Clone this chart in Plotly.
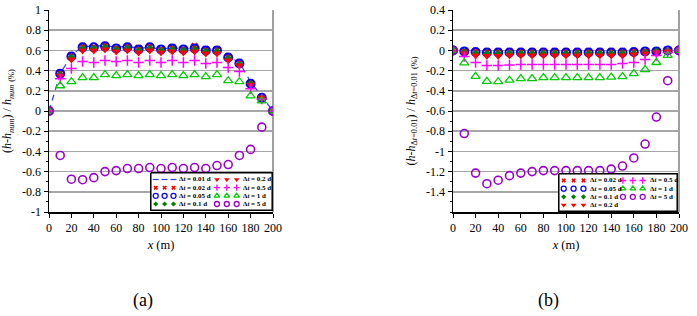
import plotly.graph_objects as go

# ---------------- data ----------------
x_m = [0, 10, 20, 30, 40, 50, 60, 70, 80, 90, 100, 110, 120, 130, 140, 150, 160, 170, 180, 190, 200]

# (a) relative error vs numerical solution (%)
a_dt001 = [0, 0.37, 0.55, 0.64, 0.64, 0.65, 0.63, 0.64, 0.62, 0.63, 0.61, 0.63, 0.61, 0.63, 0.61, 0.61, 0.54, 0.48, 0.29, 0.14, 0]
a_dt002 = [0, 0.38, 0.55, 0.64, 0.63, 0.65, 0.62, 0.64, 0.62, 0.64, 0.61, 0.63, 0.61, 0.64, 0.61, 0.61, 0.54, 0.48, 0.28, 0.14, 0]
a_dt005 = [0, 0.37, 0.54, 0.63, 0.63, 0.64, 0.62, 0.63, 0.61, 0.63, 0.61, 0.62, 0.61, 0.62, 0.60, 0.60, 0.53, 0.47, 0.27, 0.13, 0]
a_dt01 = [0, 0.36, 0.53, 0.62, 0.62, 0.63, 0.61, 0.62, 0.60, 0.62, 0.60, 0.61, 0.60, 0.61, 0.59, 0.59, 0.52, 0.46, 0.27, 0.13, 0]
a_dt02 = [0, 0.35, 0.51, 0.60, 0.60, 0.61, 0.59, 0.60, 0.58, 0.60, 0.58, 0.59, 0.58, 0.59, 0.57, 0.57, 0.50, 0.45, 0.26, 0.13, 0]
a_dt05 = [0, 0.32, 0.42, 0.49, 0.48, 0.50, 0.49, 0.50, 0.48, 0.50, 0.48, 0.50, 0.48, 0.50, 0.47, 0.48, 0.43, 0.39, 0.22, 0.12, 0]
a_dt1 = [0, 0.25, 0.29, 0.33, 0.33, 0.36, 0.35, 0.36, 0.35, 0.36, 0.35, 0.36, 0.35, 0.36, 0.34, 0.36, 0.30, 0.29, 0.15, 0.10, 0]
a_dt5 = [0, -0.44, -0.675, -0.68, -0.66, -0.60, -0.59, -0.57, -0.57, -0.56, -0.57, -0.56, -0.57, -0.56, -0.57, -0.54, -0.53, -0.44, -0.38, -0.16, 0]

# (b) relative error vs dt = 0.01 d solution (%)
b_dt002 = [0, -0.005, -0.01, -0.01, -0.01, -0.01, -0.01, -0.01, -0.01, -0.01, -0.01, -0.01, -0.01, -0.01, -0.01, -0.01, -0.01, -0.01, -0.005, 0, 0]
b_dt005 = [0, -0.01, -0.015, -0.02, -0.02, -0.02, -0.02, -0.02, -0.02, -0.02, -0.02, -0.02, -0.02, -0.02, -0.02, -0.02, -0.015, -0.01, -0.01, 0, 0]
b_dt01 = [0, -0.02, -0.03, -0.03, -0.03, -0.03, -0.03, -0.03, -0.03, -0.03, -0.03, -0.03, -0.03, -0.03, -0.03, -0.03, -0.03, -0.02, -0.01, -0.005, 0]
b_dt02 = [0, -0.03, -0.05, -0.055, -0.055, -0.05, -0.05, -0.05, -0.05, -0.05, -0.05, -0.05, -0.05, -0.05, -0.05, -0.05, -0.04, -0.03, -0.02, -0.01, 0]
b_dt05 = [0, -0.06, -0.12, -0.15, -0.15, -0.145, -0.14, -0.14, -0.14, -0.14, -0.14, -0.14, -0.14, -0.14, -0.14, -0.13, -0.12, -0.09, -0.05, -0.02, 0]
b_dt1 = [0, -0.123, -0.257, -0.307, -0.31, -0.295, -0.28, -0.28, -0.27, -0.27, -0.27, -0.27, -0.27, -0.27, -0.265, -0.26, -0.23, -0.19, -0.12, -0.05, 0]
b_dt5 = [0, -0.823, -1.215, -1.32, -1.285, -1.24, -1.215, -1.20, -1.19, -1.19, -1.19, -1.19, -1.19, -1.19, -1.175, -1.145, -1.065, -0.927, -0.66, -0.30, 0]

# tick labels
x_ticks = [0, 20, 40, 60, 80, 100, 120, 140, 160, 180, 200]
y_ticks_a = [-1, -0.8, -0.6, -0.4, -0.2, 0, 0.2, 0.4, 0.6, 0.8, 1]
y_ticks_b = [-1.4, -1.2, -1, -0.8, -0.6, -0.4, -0.2, 0, 0.2, 0.4]

def lab(v):
    return "%g" % v

# ---------------- styles ----------------
FONT = "Liberation Serif"
styles = {
    "0.01": dict(mode="lines", line=dict(color="#2040ff", width=1.2, dash="6px,5px")),
    "0.02": dict(mode="markers", marker=dict(symbol="x", size=7, color="#ff0000", line=dict(width=0))),
    "0.05": dict(mode="markers", marker=dict(symbol="circle-open", size=8, color="#0000ff", line=dict(width=2))),
    "0.1": dict(mode="markers", marker=dict(symbol="diamond", size=6, color="#008000", line=dict(width=0))),
    "0.2": dict(mode="markers", marker=dict(symbol="triangle-down", size=8, color="#ff0000", line=dict(width=0))),
    "0.5": dict(mode="markers", marker=dict(symbol="cross-thin-open", size=7.5, color="#ff00ff", line=dict(width=1.5, color="#ff00ff"))),
    "1": dict(mode="markers", marker=dict(symbol="triangle-up-open", size=8, color="#00cc00", line=dict(width=1.3))),
    "5": dict(mode="markers", marker=dict(symbol="circle-open", size=8, color="#9900cc", line=dict(width=1.6))),
}

series_a = [("0.01", a_dt001), ("0.02", a_dt002), ("0.05", a_dt005), ("0.1", a_dt01),
            ("0.2", a_dt02), ("0.5", a_dt05), ("1", a_dt1), ("5", a_dt5)]
series_b = [("0.02", b_dt002), ("0.05", b_dt005), ("0.1", b_dt01),
            ("0.2", b_dt02), ("0.5", b_dt05), ("1", b_dt1), ("5", b_dt5)]

fig = go.Figure()
for name, ys in series_a:
    fig.add_trace(go.Scatter(x=x_m, y=ys, xaxis="x", yaxis="y", name="Δt = %s d" % name,
                             showlegend=False, **styles[name]))
for name, ys in series_b:
    fig.add_trace(go.Scatter(x=x_m, y=ys, xaxis="x2", yaxis="y2", name="Δt = %s d" % name,
                             showlegend=False, **styles[name]))

W, H = 697, 316
def px2x(p): return p / W
def px2y(p): return 1 - p / H

annotations = []
shapes = []

# ---------------- manual legends ----------------
def build_legend(xr, yr, box, cols, col_marker_x, col_text_x, rows_y):
    bx0, by0, bx1, by1 = box
    bw, bh = bx1 - bx0, by1 - by0
    # white box with black frame (legend background)
    fig.add_trace(go.Scatter(x=[0, bw, bw, 0, 0], y=[0, 0, bh, bh, 0], xaxis=xr, yaxis=yr,
                             mode="lines", fill="toself", fillcolor="white",
                             line=dict(color="black", width=1.5), showlegend=False, hoverinfo="skip"))
    for ci, col in enumerate(cols):
        for ri, name in enumerate(col):
            st = styles[name]
            xx = col_marker_x[ci]
            if st["mode"] == "lines":
                for k in range(3):
                    fig.add_trace(go.Scatter(x=[xx[k] - 3, xx[k] + 3], y=[rows_y[ri]] * 2, xaxis=xr,
                                             yaxis=yr, mode="lines",
                                             line=dict(color=st["line"]["color"], width=1.2),
                                             showlegend=False, hoverinfo="skip"))
            else:
                m = dict(st["marker"])
                m["size"] = max(4, m["size"] - 3)
                if "line" in m:
                    m["line"] = dict(m["line"])
                    if m["line"].get("width", 0) > 1.3:
                        m["line"]["width"] = 1.3
                fig.add_trace(go.Scatter(x=xx, y=[rows_y[ri]] * 3, xaxis=xr, yaxis=yr,
                                         mode="markers", marker=m, showlegend=False, hoverinfo="skip"))
            annotations.append(dict(x=col_text_x[ci], y=rows_y[ri], xref=xr,
                                    yref=yr, xanchor="left", yanchor="middle",
                                    showarrow=False, text="<b>Δ<i>t</i> = %s d</b>" % name,
                                    font=dict(family=FONT, size=7, color="black")))
    return bw, bh

box_a = (150, 172, 273, 211)
box_b = (558, 173, 678, 212)
rows = [7, 15.5, 24, 32.5]
bw_a, bh_a = build_legend("x3", "y3", box_a,
                          [["0.01", "0.02", "0.05", "0.1"], ["0.2", "0.5", "1", "5"]],
                          [[5, 14, 23], [67, 77, 87]], [27, 91], rows)
bw_b, bh_b = build_legend("x4", "y4", box_b,
                          [["0.02", "0.05", "0.1", "0.2"], ["0.5", "1", "5"]],
                          [[5, 15, 25], [65, 75, 85]], [30, 90], rows)

# ---------------- axes ----------------
xa_dom = [px2x(49), px2x(273)]
xb_dom = [px2x(453), px2x(679)]
y_dom = [px2y(212), px2y(10)]

tickfont = dict(family=FONT, size=12, color="black")
common_x = dict(range=[0, 200], tickvals=x_ticks, ticktext=[lab(v) for v in x_ticks],
                showline=True, linecolor="black", linewidth=1.5, ticks="outside", ticklen=4,
                tickcolor="black", tickwidth=1, showgrid=False, zeroline=False, tickfont=tickfont,
                automargin=False,
                title=dict(text="<i>x</i> (m)", font=dict(family=FONT, size=12.5, color="black"), standoff=6))
common_y = dict(showline=True, linecolor="black", linewidth=1.5, ticks="outside", ticklen=4,
                tickcolor="black", tickwidth=1, showgrid=True, gridcolor="#a6a6a6", gridwidth=1.5,
                zeroline=False, tickfont=tickfont, automargin=False,
                minor=dict(ticks="outside", ticklen=2, dtick=0.1, tickcolor="black", showgrid=False))
hidden = dict(visible=False, fixedrange=True, automargin=False, showgrid=False, zeroline=False)

fig.update_layout(
    width=W, height=H, margin=dict(l=0, r=0, t=0, b=0),
    paper_bgcolor="white", plot_bgcolor="white", showlegend=False,
    font=dict(family=FONT, color="black"),
    xaxis=dict(domain=xa_dom, anchor="y", **common_x),
    yaxis=dict(domain=y_dom, anchor="x", range=[-1, 1], tickvals=y_ticks_a,
               ticktext=[lab(v) for v in y_ticks_a],
               title=dict(text="(<i>h</i>-<i>h</i><sub><i>num</i></sub>) / <i>h</i><sub><i>num</i></sub> <sub>(%)</sub>",
                          font=dict(family=FONT, size=12, color="black"), standoff=8),
               **common_y),
    xaxis2=dict(domain=xb_dom, anchor="y2", **common_x),
    yaxis2=dict(domain=y_dom, anchor="x2", range=[-1.6, 0.4], tickvals=y_ticks_b,
                ticktext=[lab(v) for v in y_ticks_b],
                title=dict(text="(<i>h</i>-<i>h</i><sub>Δ<i>t</i>=0.01</sub>) / <i>h</i><sub>Δ<i>t</i>=0.01</sub> <sub>(%)</sub>",
                           font=dict(family=FONT, size=12, color="black"), standoff=8),
                **common_y),
    xaxis3=dict(domain=[px2x(box_a[0]), px2x(box_a[2])], range=[-0.8, bw_a + 0.8], anchor="y3", **hidden),
    yaxis3=dict(domain=[px2y(box_a[3]), px2y(box_a[1])], range=[bh_a + 0.8, -0.8], anchor="x3", **hidden),
    xaxis4=dict(domain=[px2x(box_b[0]), px2x(box_b[2])], range=[-0.8, bw_b + 0.8], anchor="y4", **hidden),
    yaxis4=dict(domain=[px2y(box_b[3]), px2y(box_b[1])], range=[bh_b + 0.8, -0.8], anchor="x4", **hidden),
)

# right grey frame lines
for xr, yr in (("x domain", "y domain"), ("x2 domain", "y2 domain")):
    shapes.append(dict(type="line", xref=xr, yref=yr, x0=1, x1=1, y0=0, y1=1,
                       line=dict(color="#808080", width=1.5), layer="below"))

annotations.append(dict(x=px2x(143), y=px2y(300), xref="paper", yref="paper", text="(a)", showarrow=False,
                        font=dict(family=FONT, size=18, color="black"), xanchor="center", yanchor="middle"))
annotations.append(dict(x=px2x(548), y=px2y(300), xref="paper", yref="paper", text="(b)", showarrow=False,
                        font=dict(family=FONT, size=18, color="black"), xanchor="center", yanchor="middle"))

fig.update_layout(shapes=shapes, annotations=annotations)
fig.write_html("out.html", config={"displayModeBar": False, "staticPlot": True},
               post_script="document.body.style.margin='0';document.body.style.padding='0';document.body.style.overflow='hidden';")
